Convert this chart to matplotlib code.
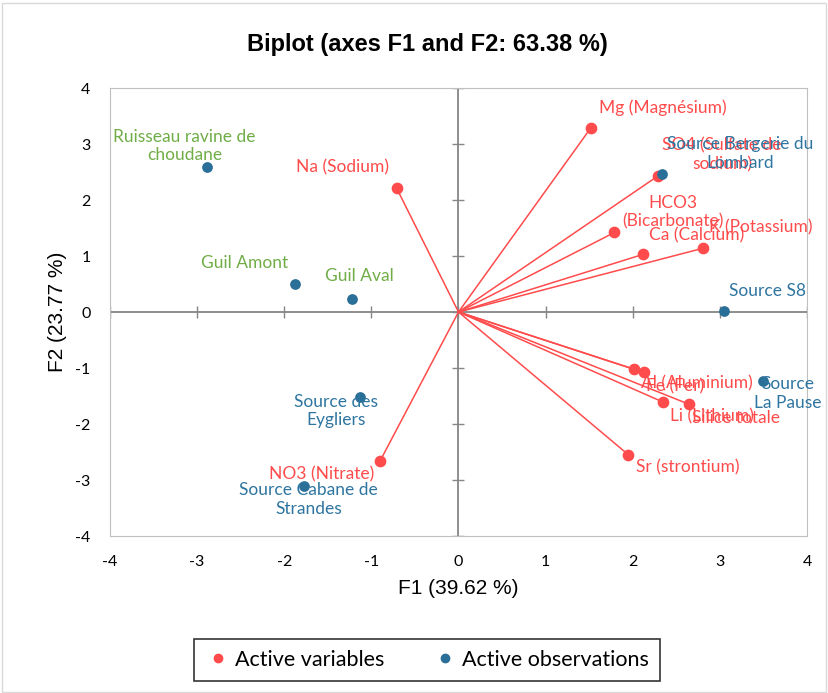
import matplotlib
matplotlib.use('Agg')
import matplotlib.pyplot as plt
from matplotlib.lines import Line2D
from matplotlib.patches import Rectangle

plt.rcParams['font.family'] = ['Lato', 'DejaVu Sans']
plt.rcParams['axes.unicode_minus'] = False

# principal component coordinates (F1, F2)
var_names = ['Mg (Magnésium)', 'SO4 (Sulfate de\nsodium)', 'HCO3\n(Bicarbonate)',
             'Ca (Calcium)', 'K (Potassium)', 'Al (Aluminium)', 'Fe (Fer)',
             'Li (Lithium)', 'Silice totale', 'Sr (strontium)', 'Na (Sodium)',
             'NO3 (Nitrate)']
var_f1 = [1.52, 2.29, 1.79, 2.12, 2.81, 2.01, 2.13, 2.35, 2.65, 1.95, -0.71, -0.90]
var_f2 = [3.29, 2.43, 1.42, 1.03, 1.14, -1.02, -1.08, -1.61, -1.65, -2.55, 2.21, -2.66]

obs_names = ['Ruisseau ravine de\nchoudane', 'Guil Amont', 'Guil Aval',
             'Source Bergerie du\nLombard', 'Source S8', 'Source\nLa Pause',
             'Source des\nEygliers', 'Source Cabane de\nStrandes']
obs_f1 = [-2.89, -1.88, -1.22, 2.34, 3.05, 3.50, -1.13, -1.77]
obs_f2 = [2.59, 0.50, 0.23, 2.47, 0.02, -1.24, -1.52, -3.10]

ticks = [-4, -3, -2, -1, 0, 1, 2, 3, 4]

# label placement (pixel offsets from the point)
var_offsets = [(72, 20), (64, 21), (58, 20), (53, 19), (57, 21), (63, -14),
               (31, -14), (49, -14), (47, -14), (59, -13), (-54, 21), (-58, -13)]
obs_offsets = [(-22, 21), (-50, 21), (7, 23), (78, 20), (43, 20), (24, -12),
               (-24, -14), (4, -14)]
obs_label_colors = ['#70AD47', '#70AD47', '#70AD47', '#2E75A0', '#2E75A0',
                    '#2E75A0', '#2E75A0', '#2E75A0']

red = '#FF4B4B'
blue = '#2A6F97'
grey = '#868686'

fig = plt.figure(figsize=(8.29, 6.93), dpi=100)
ax = fig.add_axes([110 / 829, 1 - 536 / 693, 697 / 829, 448 / 693])

ax.axhline(0, color=grey, lw=1.3, zorder=1)
ax.axvline(0, color=grey, lw=1.3, zorder=1)
ax.plot([0] * len(ticks), ticks, ls='none', marker='_', ms=9, mew=1, color=grey, zorder=1)
ax.plot(ticks, [0] * len(ticks), ls='none', marker='|', ms=9, mew=1, color=grey, zorder=1)

for x, y in zip(var_f1, var_f2):
    ax.plot([0, x], [0, y], color=red, lw=1.1, zorder=2)
ax.scatter(var_f1, var_f2, s=55, color=red, zorder=3)
ax.scatter(obs_f1, obs_f2, s=45, color=blue, zorder=3)

for name, x, y, off in zip(var_names, var_f1, var_f2, var_offsets):
    ax.annotate(name, (x, y), xytext=off, textcoords='offset pixels',
                ha='center', va='center', ma='center', color=red,
                fontsize=12.5, zorder=4, annotation_clip=False)
for name, x, y, off, c in zip(obs_names, obs_f1, obs_f2, obs_offsets, obs_label_colors):
    ax.annotate(name, (x, y), xytext=off, textcoords='offset pixels',
                ha='center', va='center', ma='center', color=c,
                fontsize=12.5, zorder=4, annotation_clip=False)

ax.set_xlim(-4, 4)
ax.set_ylim(-4, 4)
ax.set_xticks(ticks)
ax.set_yticks(ticks)
ax.tick_params(length=0, labelsize=11.5)
ax.tick_params(axis='x', pad=14)
ax.tick_params(axis='y', pad=14)
for s in ax.spines.values():
    s.set_color('#BFBFBF')
ax.set_xlabel('F1 (39.62 %)', fontsize=15, labelpad=7, family='Liberation Sans')
ax.set_ylabel('F2 (23.77 %)', fontsize=15, labelpad=6, family='Liberation Sans')

fig.text(427 / 829, 1 - 44 / 693, 'Biplot (axes F1 and F2: 63.38 %)',
         ha='center', va='center', fontsize=17, fontweight='bold',
         family='Liberation Sans')

handles = [Line2D([], [], ls='none', marker='o', ms=6, color=red),
           Line2D([], [], ls='none', marker='o', ms=6, color=blue)]
leg = fig.legend(handles, ['Active variables', 'Active observations'],
                 loc='center', bbox_to_anchor=(427 / 829, 1 - 660 / 693), ncol=2,
                 fontsize=15.5, frameon=True, fancybox=False, handletextpad=0.2,
                 columnspacing=2.2, borderpad=0.5, handlelength=1.2)
leg.get_frame().set_edgecolor('black')
leg.get_frame().set_linewidth(1.2)

fig.patches.append(Rectangle((0.002, 0.002), 0.994, 0.994, transform=fig.transFigure,
                             fill=False, edgecolor='#D9D9D9', lw=1))

fig.savefig('out.png', dpi=100)
